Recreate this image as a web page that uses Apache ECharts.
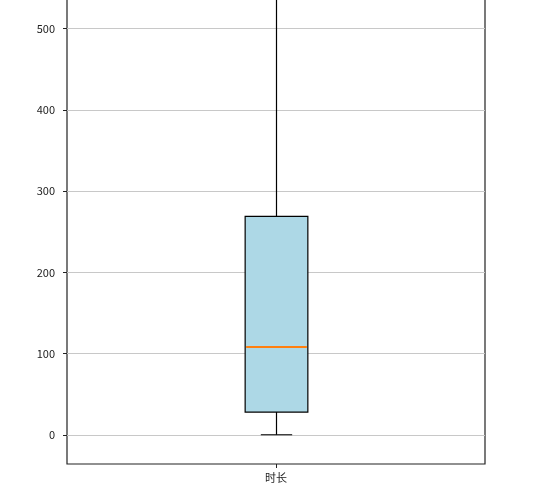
<!DOCTYPE html>
<html>
<head>
<meta charset="utf-8">
<script src="https://cdn.jsdelivr.net/npm/echarts@6/dist/echarts.min.js"></script>
<style>
  html, body { margin: 0; padding: 0; background: #fff; overflow: hidden; }
  /* 图表顶部被截掉，所以整体上移几像素 */
  #chart { width: 557px; height: 500px; margin-top: -7px; }
</style>
</head>
<body>
<div id="chart"></div>
<script>
// 数据
var categories = ['时长'];
var boxMin = [0];
var boxQ1 = [28];
var boxMedian = [107.5];
var boxQ3 = [269];
var boxMax = [620];   // 上须超出画面顶部
var yTicks = [0, 100, 200, 300, 400, 500];

var chart = echarts.init(document.getElementById('chart'), null, { renderer: 'canvas' });

var seriesData = categories.map(function (c, i) {
  return [i, boxMin[i], boxQ1[i], boxMedian[i], boxQ3[i], boxMax[i]];
});

function renderBox(params, api) {
  var idx = api.value(0);
  var band = api.size([1, 0])[0];
  var half = band * 0.075;
  var capHalf = half * 0.5;
  var pMin = api.coord([idx, api.value(1)]);
  var pQ1 = api.coord([idx, api.value(2)]);
  var pMed = api.coord([idx, api.value(3)]);
  var pQ3 = api.coord([idx, api.value(4)]);
  var pMax = api.coord([idx, api.value(5)]);
  var x = Math.round(pQ1[0]) + 0.5;
  var medY = Math.round(pMed[1]);
  var lineStyle = { stroke: '#000', lineWidth: 1.2 };
  return {
    type: 'group',
    children: [
      { type: 'line', shape: { x1: x, y1: pMin[1], x2: x, y2: pQ1[1] }, style: lineStyle },
      { type: 'line', shape: { x1: x, y1: pQ3[1], x2: x, y2: pMax[1] }, style: lineStyle },
      { type: 'line', shape: { x1: x - capHalf, y1: pMin[1], x2: x + capHalf, y2: pMin[1] }, style: lineStyle },
      { type: 'line', shape: { x1: x - capHalf, y1: pMax[1], x2: x + capHalf, y2: pMax[1] }, style: lineStyle },
      { type: 'rect', shape: { x: x - half, y: pQ3[1], width: half * 2, height: pQ1[1] - pQ3[1] },
        style: { fill: '#add8e6', stroke: '#000', lineWidth: 1.2 } },
      { type: 'line', shape: { x1: x - half + 1, y1: medY, x2: x + half - 1, y2: medY },
        style: { stroke: '#ff7f0e', lineWidth: 2 } }
    ]
  };
}

var option = {
  animation: false,
  backgroundColor: '#fff',
  grid: {
    left: 67, right: 72, top: 0, bottom: 29,
    show: true, borderColor: '#222', borderWidth: 1.2, backgroundColor: 'transparent'
  },
  xAxis: {
    type: 'category',
    data: categories,
    boundaryGap: true,
    axisLine: { show: false, onZero: false },
    axisTick: { show: true, alignWithLabel: true, length: 4, lineStyle: { color: '#222' } },
    axisLabel: { color: '#222', fontSize: 11, margin: 8, fontFamily: 'Noto Sans CJK SC' },
    splitLine: { show: false }
  },
  yAxis: {
    type: 'value',
    min: -36,
    max: 544,
    interval: 100,
    axisLine: { show: false },
    axisTick: { show: true, length: 4, lineStyle: { color: '#222' },
      customValues: yTicks },
    axisLabel: { color: '#222', fontSize: 11, margin: 12, fontFamily: 'Noto Sans CJK SC',
      customValues: yTicks },
    splitLine: { show: true, lineStyle: { color: '#c8c8c8', width: 1 } }
  },
  series: [{
    type: 'custom',
    renderItem: renderBox,
    data: seriesData,
    clip: false,
    z: 5
  }]
};
chart.setOption(option);
</script>
</body>
</html>
